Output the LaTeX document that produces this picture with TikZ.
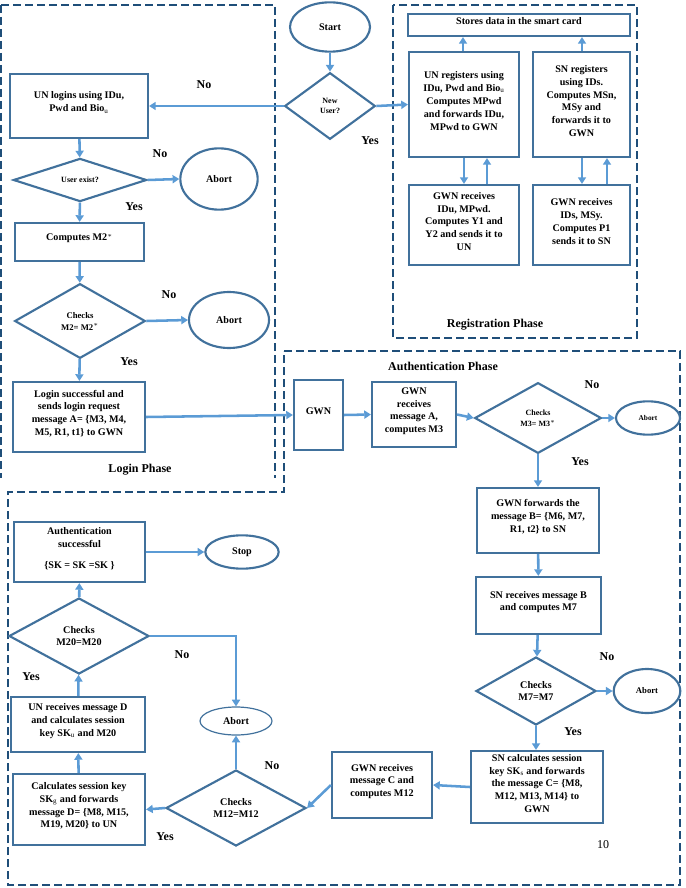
\documentclass[tikz,border=0pt]{standalone}
\usepackage{fontspec}
\setmainfont{Liberation Serif}
\usetikzlibrary{shapes.geometric,arrows.meta,fit}
\definecolor{bx}{RGB}{65,113,156}
\definecolor{ar}{RGB}{91,155,213}
\definecolor{dsh}{RGB}{31,78,121}
\begin{document}
\begin{tikzpicture}[x=0.75pt,y=-0.75pt,
 box/.style={draw=bx,line width=1.6pt,inner sep=0pt,align=center,font=\bfseries\fontsize{7.6}{9.6}\selectfont},
 dia/.style={draw=bx,line width=1.6pt,diamond,inner sep=0pt,align=center,font=\bfseries\fontsize{7.6}{9.6}\selectfont},
 ell/.style={draw=bx,line width=1.6pt,ellipse,inner sep=0pt,align=center,font=\bfseries\fontsize{7.6}{9.6}\selectfont},
 arr/.style={draw=ar,line width=1.9pt,-{Triangle[length=5pt,width=6pt]}},
 lab/.style={font=\bfseries\fontsize{9}{11}\selectfont},
 phase/.style={dsh,line width=1pt,dash pattern=on 6pt off 3pt}]
\useasboundingbox (0,0) rectangle (685,888);
% phase frames
\draw[phase] (1,5) -- (275,5) -- (275,478);
\draw[phase] (1,5) -- (1,478);
\draw[phase] (393,5) rectangle (637,338);
\draw[phase] (284,351) -- (680,351) -- (680,885) -- (8,885) -- (8,492) -- (284,492) -- cycle;
\node[lab] (lp) at (140,470) {Login Phase};
\node[lab] (rp) at (495,325) {Registration Phase};
\node[lab] (ap) at (443,366) {Authentication Phase};
% top
\node[ell,minimum width=60pt,minimum height=37pt] (start) at (330,27) {Start};
\node[dia,minimum width=68pt,minimum height=50pt,font=\bfseries\fontsize{6}{8}\selectfont] (nu) at (330,106) {New\\User?};
% login
\node[box,fit={(10,74) (148,138)}] (log) {UN logins using IDu,\\Pwd and Bio$_{\mathrm{u}}$};
\node[dia,minimum width=100pt,minimum height=30pt,font=\bfseries\fontsize{6}{8}\selectfont] (ue) at (80,180) {User exist?};
\node[ell,minimum width=58pt,minimum height=46pt] (ab1) at (219,179) {Abort};
\node[box,fit={(15,223) (144,261)}] (m2) {Computes M2$^{*}$};
\node[dia,minimum width=98pt,minimum height=56pt,font=\bfseries\fontsize{6.5}{9}\selectfont] (c2) at (80,321) {Checks\\M2= M2$^{*}$};
\node[ell,minimum width=60pt,minimum height=42pt] (ab2) at (229,320) {Abort};
\node[box,fit={(13,382) (145,452)}] (ls) {Login successful and\\sends login request\\message A= \{M3, M4,\\M5, R1, t1\} to GWN};
% registration
\node[box,fit={(408,14) (630,36)}] (st) {Stores data in the smart card};
\node[box,fit={(409,52) (519,157)}] (ur) {UN registers using\\IDu, Pwd and Bio$_{\mathrm{u}}$\\Computes MPwd\\and forwards IDu,\\MPwd to GWN};
\node[box,fit={(533,52) (630,157)}] (sr) {SN registers\\using IDs.\\Computes MSn,\\MSy and\\forwards it to\\GWN};
\node[box,fit={(409,185) (519,265)}] (g1) {GWN receives\\IDu, MPwd.\\Computes Y1 and\\Y2 and sends it to\\UN};
\node[box,fit={(533,185) (630,265)}] (g2) {GWN receives\\IDs, MSy.\\Computes P1\\sends it to SN};
% authentication
\node[box,fit={(294,380) (343,450)}] (gwn) {GWN};
\node[box,fit={(372,382) (456,447)}] (ga) {GWN\\receives\\message A,\\computes M3};
\node[dia,minimum width=95pt,minimum height=53pt,font=\bfseries\fontsize{6}{8.5}\selectfont] (c3) at (538,418) {Checks\\M3= M3$^{*}$};
\node[ell,minimum width=48pt,minimum height=25pt,font=\bfseries\fontsize{5.5}{7}\selectfont] (ab3) at (648,418) {Abort};
\node[box,fit={(477,488) (599,553)}] (gf) {GWN forwards the\\message B= \{M6, M7,\\R1, t2\} to SN\\[8pt]};
\node[box,fit={(476,577) (601,634)}] (sb) {SN receives message B\\and computes M7\\[10pt]};
\node[dia,minimum width=90pt,minimum height=51pt] (c7) at (536,691) {Checks\\M7=M7};
\node[ell,minimum width=50pt,minimum height=33pt,font=\bfseries\fontsize{6.5}{8}\selectfont] (ab4) at (647,691) {Abort};
\node[box,fit={(471,751) (603,823)}] (sc) {SN calculates session\\key SK$_{\mathrm{s}}$ and forwards\\the message C= \{M8,\\M12, M13, M14\} to\\GWN};
\node[box,fit={(332,752) (432,818)}] (gc) {GWN receives\\message C and\\computes M12\\[8pt]};
\node[dia,minimum width=105pt,minimum height=57pt] (c12) at (236,808) {Checks\\M12=M12};
\node[ell,minimum width=54pt,minimum height=21pt,draw=bx,line width=0.9pt] (ab5) at (236,721) {Abort};
\node[box,fit={(13,774) (145,845)}] (cs) {Calculates session key\\SK$_{\mathrm{g}}$ and forwards\\message D= \{M8, M15,\\M19, M20\} to UN};
\node[box,fit={(11,697) (145,752)}] (ud) {UN receives message D\\and calculates session\\key SK$_{\mathrm{u}}$ and M20};
\node[dia,minimum width=105pt,minimum height=57pt] (c20) at (79,636) {Checks\\M20=M20};
\node[box,fit={(14,522) (145,582)}] (as) {Authentication\\successful\\[6pt]\{SK = SK =SK \}};
\node[ell,minimum width=55pt,minimum height=25pt] (stop) at (242,552) {Stop};
\coordinate (k20) at (236,636);
\node[font=\fontsize{9}{11}\selectfont] (pg) at (603,845) {10};
% labels
\node[lab] at (204,85) {No};
\node[lab] at (370,141) {Yes};
\node[lab] at (160,154) {No};
\node[lab] at (134,207) {Yes};
\node[lab] at (169,295) {No};
\node[lab] at (129,362) {Yes};
\node[lab] at (592,385) {No};
\node[lab] at (580,462) {Yes};
\node[lab] at (607,657) {No};
\node[lab] at (573,732) {Yes};
\node[lab] at (272,766) {No};
\node[lab] at (165,837) {Yes};
\node[lab] at (182,655) {No};
\node[lab] at (31,677) {Yes};
% arrows
\draw[arr] (start) -- (nu);
\draw[arr] (nu.west) -- (log.east);
\draw[arr] (nu.east) -- (ur.west);
\draw[arr] (log) -- (ue);
\draw[arr] (ue.east) -- (ab1.west);
\draw[arr] (ue) -- (m2);
\draw[arr] (m2) -- (c2);
\draw[arr] (c2.east) -- (ab2.west);
\draw[arr] (c2) -- (ls);
\draw[arr] (ls.east) -- (gwn.west);
\draw[arr] (ur.north -| 463,0) -- (st.south -| 463,0);
\draw[arr] (sr.north -| 582,0) -- (st.south -| 582,0);
\draw[arr] (ur.south -| 464,0) -- (g1.north -| 464,0);
\draw[arr] (g1.north -| 487,0) -- (ur.south -| 487,0);
\draw[arr] (sr.south -| 582,0) -- (g2.north -| 582,0);
\draw[arr] (g2.north -| 607,0) -- (sr.south -| 607,0);
\draw[arr] (gwn.east) -- (ga.west);
\draw[arr] (ga.east) -- (c3.west);
\draw[arr] (c3.east) -- (ab3.west);
\draw[arr] (c3.south) -- (gf.north -| c3.south);
\draw[arr] (gf) -- (sb);
\draw[arr] (sb) -- (c7);
\draw[arr] (c7.east) -- (ab4.west);
\draw[arr] (c7.south) -- (sc.north -| c7.south);
\draw[arr] (sc.west) -- (gc.east);
\draw[arr] (gc.west) -- (c12.east);
\draw[arr] (c12.north) -- (ab5.south);
\draw[arr] (c12.west) -- (cs.east);
\draw[arr] (cs) -- (ud);
\draw[arr] (ud) -- (c20);
\draw[arr] (c20) -- (as);
\draw[arr] (as.east |- stop) -- (stop.west);
\draw[arr] (c20.east) -- (k20) -- (ab5.north);
\end{tikzpicture}
\end{document}
